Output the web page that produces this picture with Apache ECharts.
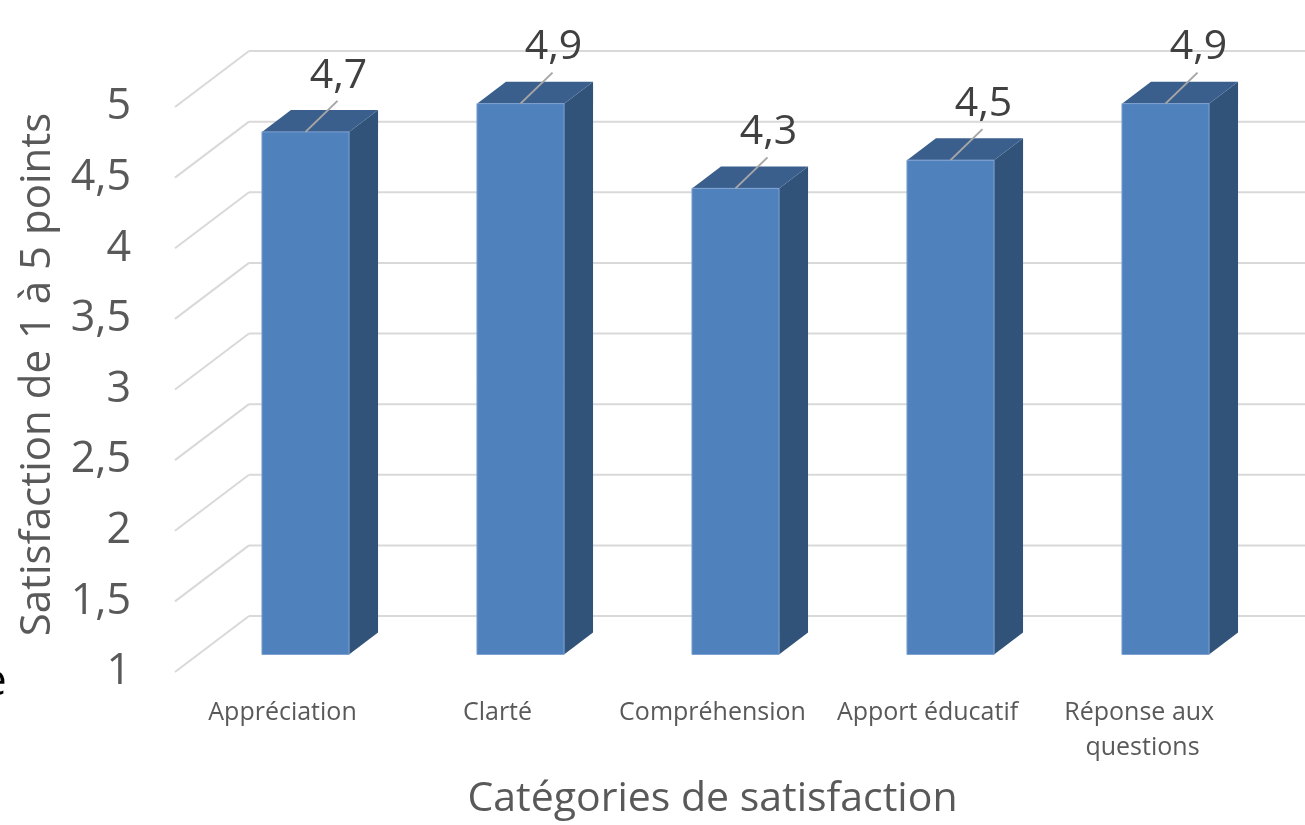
<!DOCTYPE html>
<html>
<head>
<meta charset="utf-8">
<script src="https://cdn.jsdelivr.net/npm/echarts@6/dist/echarts.min.js"></script>
<style>
html,body{margin:0;padding:0;background:#fff;}
#chart{width:1305px;height:825px;}
</style>
</head>
<body>
<div id="chart"></div>
<script>
var categories = ['Appréciation', 'Clarté', 'Compréhension', 'Apport éducatif', 'Réponse aux questions'];
var satisfaction = [4.7, 4.9, 4.3, 4.5, 4.9];
var tickValues = [1, 1.5, 2, 2.5, 3, 3.5, 4, 4.5, 5];
var tickLabels = ['1', '1,5', '2', '2,5', '3', '3,5', '4', '4,5', '5'];

var FONT = 'Open Sans';
// depth offsets (pixels) relative to the front plane of the floor
var WALL_DX = 74, WALL_DY = -56;        // back wall
var BAR_FRONT_DX = 23, BAR_FRONT_DY = -17.5;
var BAR_BACK_DX = 52, BAR_BACK_DY = -39.5;

function fmt(v) { return String(v).replace('.', ','); }

var chart = echarts.init(document.getElementById('chart'));

var option = {
  backgroundColor: '#ffffff',
  animation: false,
  grid: { left: 175, top: 107, width: 1075, height: 568 },
  xAxis: {
    type: 'category', data: categories,
    axisLine: {show: false}, axisTick: {show: false}, splitLine: {show: false},
    axisLabel: { color: '#595959', fontFamily: FONT, fontSize: 25, lineHeight: 35, margin: 23, width: 212, overflow: 'break', interval: 0 },
    name: 'Catégories de satisfaction', nameLocation: 'middle', nameGap: 106,
    nameTextStyle: { color: '#595959', fontFamily: FONT, fontSize: 41, lineHeight: 42 }
  },
  yAxis: {
    type: 'value', min: 1, max: 5, interval: 0.5,
    axisLine: {show: false}, axisTick: {show: false}, splitLine: {show: false},
    axisLabel: { color: '#595959', fontFamily: FONT, fontSize: 43, margin: 44,
      formatter: function (v) { var i = tickValues.indexOf(v); return i >= 0 ? tickLabels[i] : fmt(v); } },
    name: 'Satisfaction de 1 à 5 points', nameLocation: 'middle', nameGap: 116,
    nameTextStyle: { color: '#595959', fontFamily: FONT, fontSize: 42, lineHeight: 42, padding: [0, 0, 0, 30] }
  },
  graphic: [
    { type: 'text', left: -18, top: 660, style: { text: 'e', fill: '#000', font: '44px "Open Sans"' } }
  ],
  series: [
    {
      type: 'custom', z: 1, silent: true,
      data: tickValues.map(function (v) { return [0, v]; }),
      renderItem: function (params, api) {
        var cs = params.coordSys;
        var x0 = cs.x;
        var y = api.coord([0, api.value(1)])[1];
        return { type: 'group', children: [
          { type: 'line', shape: { x1: x0, y1: y, x2: x0 + WALL_DX, y2: y + WALL_DY },
            style: { stroke: '#d9d9d9', lineWidth: 2 } },
          { type: 'line', shape: { x1: x0 + WALL_DX, y1: y + WALL_DY, x2: x0 + cs.width + WALL_DX, y2: y + WALL_DY },
            style: { stroke: '#d9d9d9', lineWidth: 2 } }
        ] };
      }
    },
    {
      type: 'custom', z: 3,
      data: satisfaction.map(function (v, i) { return [i, v]; }),
      renderItem: function (params, api) {
        var i = api.value(0), v = api.value(1);
        var top = api.coord([i, v]);
        var base = api.coord([i, 1]);
        var hw = api.size([1, 0])[0] * 0.405 / 2;
        var cx = top[0];
        var fx1 = cx + BAR_FRONT_DX - hw, fx2 = cx + BAR_FRONT_DX + hw;
        var fyT = top[1] + BAR_FRONT_DY, fyB = base[1] + BAR_FRONT_DY;
        var bdx = BAR_BACK_DX - BAR_FRONT_DX, bdy = BAR_BACK_DY - BAR_FRONT_DY;
        var children = [
          { type: 'polygon', shape: { points: [[fx2, fyT], [fx2 + bdx, fyT + bdy], [fx2 + bdx, fyB + bdy], [fx2, fyB]] },
            style: { fill: '#325379' } },
          { type: 'polygon', shape: { points: [[fx1, fyT], [fx1 + bdx, fyT + bdy], [fx2 + bdx, fyT + bdy], [fx2, fyT]] },
            style: { fill: '#3b5f8c' } },
          { type: 'rect', shape: { x: fx1, y: fyT, width: fx2 - fx1, height: fyB - fyT },
            style: { fill: '#4f81bd', stroke: '#7fa2d2', lineWidth: 1 } }
        ];
        var lx = (fx1 + fx2) / 2, ly = fyT;
        children.push({ type: 'line', shape: { x1: lx, y1: ly, x2: lx + 32, y2: ly - 31 },
          style: { stroke: '#a6a6a6', lineWidth: 2 } });
        children.push({ type: 'text', x: lx + 33, y: ly - 56,
          style: { text: fmt(v), fill: '#404040', font: '41px "Open Sans"', align: 'center', verticalAlign: 'middle' } });
        return { type: 'group', children: children };
      }
    }
  ]
};
chart.setOption(option);
</script>
</body>
</html>
